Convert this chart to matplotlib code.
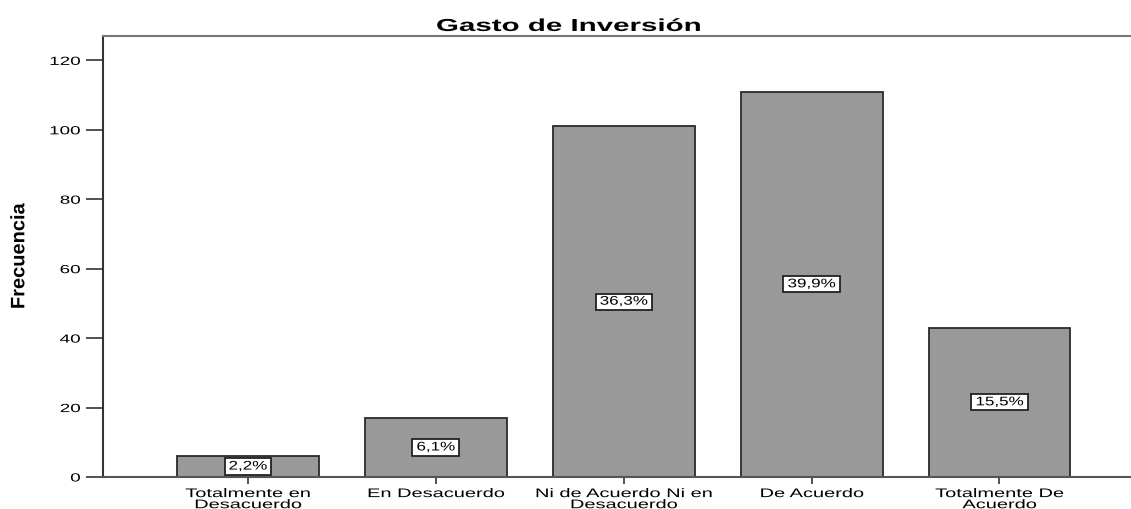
import matplotlib
matplotlib.use("Agg")
import matplotlib.pyplot as plt
from matplotlib.patheffects import AbstractPathEffect
from matplotlib.transforms import Affine2D

categories = ["Totalmente en\nDesacuerdo", "En Desacuerdo", "Ni de Acuerdo Ni en\nDesacuerdo",
              "De Acuerdo", "Totalmente De\nAcuerdo"]
frequencies = [6, 17, 101, 111, 43]
percent_labels = ["2,2%", "6,1%", "36,3%", "39,9%", "15,5%"]
y_ticks = [0, 20, 40, 60, 80, 100, 120]


class StretchX(AbstractPathEffect):
    """Stretch drawn text horizontally (the reference image is widened)."""
    def __init__(self, sx, anchor="center"):
        super().__init__()
        self.sx = sx
        self.anchor = anchor

    def draw_path(self, renderer, gc, tpath, affine, rgbFace=None):
        v = tpath.vertices
        if len(v):
            xmin, xmax = v[:, 0].min(), v[:, 0].max()
            cx = {"center": (xmin + xmax) / 2, "left": xmin, "right": xmax}[self.anchor]
            t = Affine2D().translate(-cx, 0).scale(self.sx, 1).translate(cx, 0) + affine
        else:
            t = affine
        renderer.draw_path(gc, tpath, t, rgbFace)


plt.rcParams['font.family'] = ['Liberation Sans', 'DejaVu Sans']
SX = 1.6

fig = plt.figure(figsize=(11.31, 5.09), dpi=100)
ax = fig.add_axes([0.0908, 0.0629, 0.9092, 0.8662])

x = list(range(len(categories)))
ax.bar(x, frequencies, width=0.755, color="#999999", edgecolor="#2a2a2a", linewidth=1.3, zorder=2)

for xi, v, lab in zip(x, frequencies, percent_labels):
    t = ax.text(xi, v / 2, lab, ha="center", va="center", fontsize=9, color="black", zorder=3,
                bbox=dict(boxstyle="square,pad=0.17", facecolor="white", edgecolor="#222222", linewidth=1.3))
    t.set_path_effects([StretchX(1.36, "center")])
    t.get_bbox_patch().set_path_effects([StretchX(1.42, "center")])

ax.set_xlim(-0.773, 4.70)
ax.set_ylim(0, 127)
ax.set_yticks(y_ticks)
ax.set_yticklabels([str(t) for t in y_ticks], fontsize=8.5)
ax.set_xticks(x)
ax.set_xticklabels(categories, fontsize=9, linespacing=0.9)
for lbl in ax.get_xticklabels():
    lbl.set_path_effects([StretchX(SX, "center")])
for lbl in ax.get_yticklabels():
    lbl.set_path_effects([StretchX(SX, "right")])

ax.tick_params(axis="y", direction="out", length=12, width=1.2, color="#333333", pad=4)
ax.tick_params(axis="x", direction="out", length=5, width=1.2, color="#333333", pad=3)

ax.spines["right"].set_visible(False)
ax.spines["left"].set_color("#333333")
ax.spines["left"].set_linewidth(1.5)
ax.spines["bottom"].set_color("#555555")
ax.spines["bottom"].set_linewidth(1.5)
ax.spines["top"].set_color("#777777")
ax.spines["top"].set_linewidth(1.5)

yl = fig.text(0.0175, 0.497, "Frecuencia", rotation=90, ha="center", va="center", fontsize=14,
              fontweight="bold", family=['Liberation Sans Narrow', 'Liberation Sans', 'DejaVu Sans'])
yl.set_path_effects([StretchX(1.03, "center")])
ti = fig.text(0.5027, 0.948, "Gasto de Inversión", ha="center", va="center", fontsize=12.5,
              fontweight="bold")
ti.set_path_effects([StretchX(1.7, "center")])

fig.savefig("out.png", dpi=100)
